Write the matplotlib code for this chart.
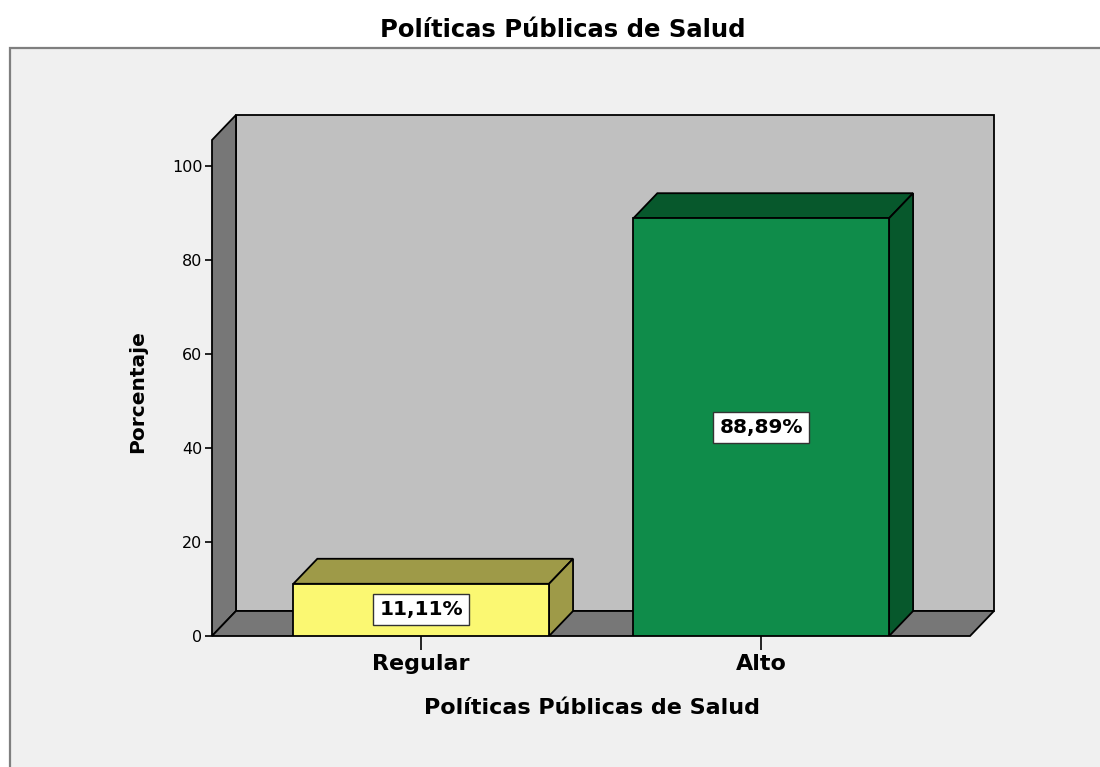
import matplotlib
matplotlib.use('Agg')
from matplotlib import pyplot as plt
from matplotlib.patches import Polygon, Rectangle

# datos del gráfico
categorias = ['Regular', 'Alto']
porcentajes = [11.11, 88.89]
color_frente = ['#fbf872', '#0f8c4a']
color_oscuro = ['#9e9a48', '#07582c']

titulo = 'Políticas Públicas de Salud'
etiqueta_x = 'Políticas Públicas de Salud'
etiqueta_y = 'Porcentaje'

plt.rcParams['font.family'] = ['DejaVu Sans']

fig = plt.figure(figsize=(11, 7.67), dpi=100)
fig.patch.set_facecolor('white')

# panel gris de fondo
panel = Rectangle((10 / 1100, -0.01), 1.0, (767 - 48) / 767 + 0.01, transform=fig.transFigure,
                  facecolor='#f0f0f0', edgecolor='#7f7f7f', linewidth=1.6, zorder=-10)
fig.add_artist(panel)

fig.text(563 / 1100, 1 - 30 / 767, titulo, ha='center', va='center', fontsize=17.5, fontweight='bold')

ax = fig.add_axes([212 / 1100, 1 - 636 / 767, 782 / 1100, 521 / 767])
ax.set_facecolor('none')
ax.set_zorder(1)

x0, x1 = -0.6153, 1.614      # eje frontal
dx, dy = 0.0705, 5.32        # profundidad 3D
ytop = 110.85
ancho = 0.752
lw = 1.3

ax.set_xlim(x0, x1 + dx)
ax.set_ylim(0, ytop)

# pared del fondo, pared izquierda y piso
ax.add_patch(Polygon([(x0 + dx, dy), (x1 + dx, dy), (x1 + dx, ytop), (x0 + dx, ytop)],
                     facecolor='#c0c0c0', edgecolor='black', linewidth=lw, clip_on=False))
ax.add_patch(Polygon([(x0, 0), (x0 + dx, dy), (x0 + dx, ytop), (x0, ytop - dy)],
                     facecolor='#777777', edgecolor='black', linewidth=lw, clip_on=False))
ax.add_patch(Polygon([(x0, 0), (x1, 0), (x1 + dx, dy), (x0 + dx, dy)],
                     facecolor='#777777', edgecolor='black', linewidth=lw, clip_on=False))

# barras 3D
for i, v in enumerate(porcentajes):
    a, b = i - ancho / 2, i + ancho / 2
    ax.add_patch(Polygon([(a, v), (b, v), (b + dx, v + dy), (a + dx, v + dy)],
                         facecolor=color_oscuro[i], edgecolor='black', linewidth=lw))
    ax.add_patch(Polygon([(b, 0), (b + dx, dy), (b + dx, v + dy), (b, v)],
                         facecolor=color_oscuro[i], edgecolor='black', linewidth=lw))
    ax.add_patch(Rectangle((a, 0), ancho, v, facecolor=color_frente[i], edgecolor='black', linewidth=lw))
    ax.text(i, v / 2, f'{v:.2f}'.replace('.', ',') + '%', ha='center', va='center',
            fontsize=14.5, fontweight='bold',
            bbox=dict(boxstyle='square,pad=0.3', facecolor='white', edgecolor='#333333', linewidth=1.0))

for s in ax.spines.values():
    s.set_visible(False)

ax.set_yticks([0, 20, 40, 60, 80, 100])
ax.tick_params(axis='y', length=5, width=1.2, labelsize=11.5, pad=2)
ax.set_xticks(range(len(categorias)), categorias)
ax.tick_params(axis='x', length=10, width=1.2, labelsize=16, pad=3)
for lab in ax.get_xticklabels():
    lab.set_fontweight('bold')

fig.text(592 / 1100, 1 - 708 / 767, etiqueta_x, ha='center', va='center', fontsize=16, fontweight='bold')
fig.text(138 / 1100, 1 - 392 / 767, etiqueta_y, ha='center', va='center', rotation=90,
         fontsize=14.5, fontweight='bold')

fig.savefig('out.png', dpi=100)
